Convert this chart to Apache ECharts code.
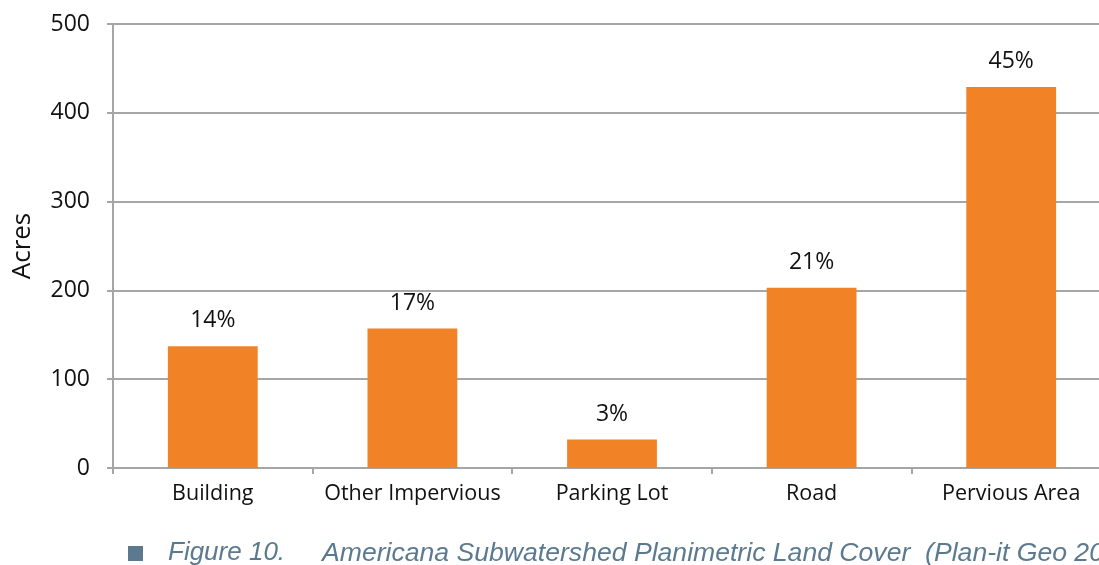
<!DOCTYPE html>
<html>
<head>
<meta charset="utf-8">
<script src="https://cdn.jsdelivr.net/npm/echarts@6/dist/echarts.min.js"></script>
<style>
  html, body { margin: 0; padding: 0; background: #fff; }
  #chart { width: 1099px; height: 565px; }
</style>
</head>
<body>
<div id="chart"></div>
<script>
// land cover classes and acreage
const categories = ['Building', 'Other Impervious', 'Parking Lot', 'Road', 'Pervious Area']
const acres = [137, 157, 32, 203, 429]
const shares = ['14%', '17%', '3%', '21%', '45%']
const yTicks = { min: 0, max: 500, interval: 100 }

const chart = echarts.init(document.getElementById('chart'))
chart.setOption({
  animation: false,
  textStyle: { fontFamily: 'Open Sans' },
  grid: { left: 113, right: -12, top: 24, bottom: 97, outerBoundsMode: 'none' },
  xAxis: {
    type: 'category',
    data: categories,
    axisLine: { lineStyle: { color: '#a6a6a6', width: 2 } },
    axisTick: { show: true, interval: 0, length: 6, lineStyle: { color: '#a6a6a6', width: 2 } },
    axisLabel: { color: '#111', fontSize: 21.5, margin: 15, interval: 0, hideOverlap: false }
  },
  yAxis: {
    type: 'value',
    min: yTicks.min,
    max: yTicks.max,
    interval: yTicks.interval,
    name: 'Acres',
    nameLocation: 'middle',
    nameGap: 77,
    nameTextStyle: { color: '#111', fontSize: 26 },
    axisLine: { show: true, lineStyle: { color: '#a6a6a6', width: 2 } },
    axisTick: { show: true, length: 6, lineStyle: { color: '#a6a6a6', width: 2 } },
    axisLabel: { color: '#111', fontSize: 23, margin: 23 },
    splitLine: { lineStyle: { color: '#a6a6a6', width: 2 } }
  },
  series: [{
    type: 'bar',
    data: acres,
    barWidth: '45%',
    itemStyle: { color: '#f28226' },
    label: {
      show: true,
      position: 'top',
      distance: 14,
      color: '#111',
      fontSize: 23,
      formatter: p => shares[p.dataIndex]
    }
  }],
  graphic: [
    { type: 'rect', left: 128, top: 546, shape: { width: 15, height: 15 }, style: { fill: '#5b7a8f' } },
    {
      type: 'text', left: 168, top: 540,
      style: {
        text: 'Figure 10.',
        fill: '#5b7a8f',
        font: 'italic 26px "Liberation Sans"'
      }
    },
    {
      type: 'text', left: 322, top: 540,
      style: {
        text: 'Americana Subwatershed Planimetric Land Cover  (Plan-it Geo 2013)',
        fill: '#5b7a8f',
        font: 'italic 26.6px "Liberation Sans"'
      }
    }
  ]
})
</script>
</body>
</html>
